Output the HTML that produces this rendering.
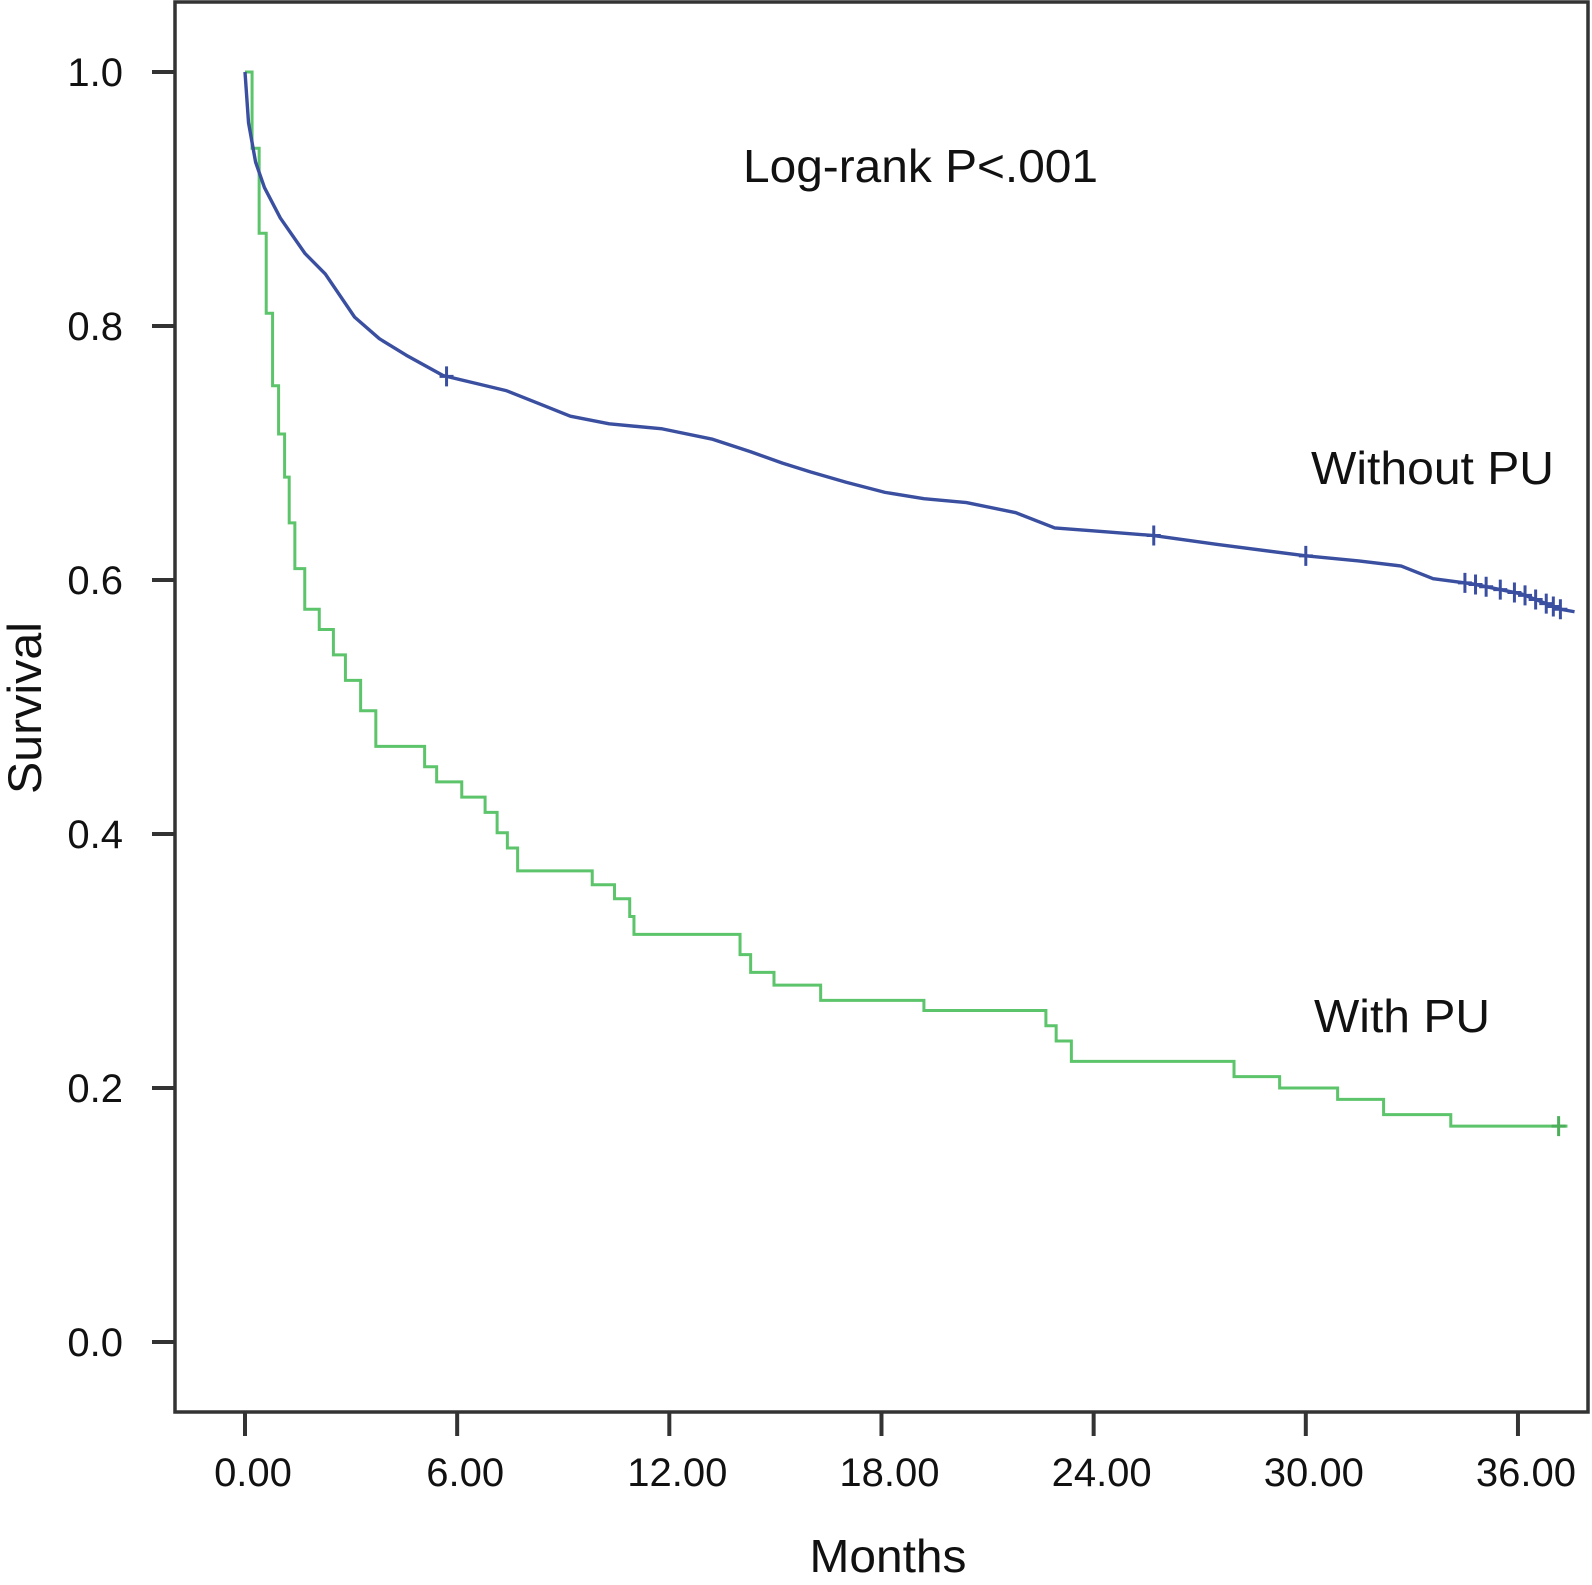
<!DOCTYPE html>
<html><head><meta charset="utf-8">
<style>
html,body{margin:0;padding:0;background:#fff;}
svg{display:block;font-family:"Liberation Sans",Arial,sans-serif;}
</style></head>
<body>
<svg id="chart" width="1592" height="1585" viewBox="0 0 1592 1585" xmlns="http://www.w3.org/2000/svg">
<rect x="0" y="0" width="1592" height="1585" fill="#fff"/>
<rect x="175" y="2" width="1413" height="1410" fill="none" stroke="#333" stroke-width="3.5"/>
<g id="axes"></g>
<g id="series"></g>
<text x="743" y="182" font-size="46" fill="#111" textLength="355" lengthAdjust="spacingAndGlyphs">Log-rank P&lt;.001</text>
<text x="1311" y="484" font-size="46" fill="#111" textLength="243" lengthAdjust="spacingAndGlyphs">Without PU</text>
<text x="1314" y="1032" font-size="46" fill="#111" textLength="176" lengthAdjust="spacingAndGlyphs">With PU</text>
<text x="888" y="1572" font-size="46" text-anchor="middle" fill="#111" textLength="157" lengthAdjust="spacingAndGlyphs">Months</text>
<text transform="translate(41,708) rotate(-90)" font-size="47" text-anchor="middle" fill="#111" textLength="172" lengthAdjust="spacingAndGlyphs">Survival</text>
</svg>
<script>
const xTicks=[0,6,12,18,24,30,36];
const xTickLabels=["0.00","6.00","12.00","18.00","24.00","30.00","36.00"];
const yTicks=[0,0.2,0.4,0.6,0.8,1.0];
const yTickLabels=["0.0","0.2","0.4","0.6","0.8","1.0"];
const blueTimes=[0,0.1,0.3,0.55,1.0,1.7,2.27,3.1,3.8,4.56,5.6,6.5,7.4,8.3,9.2,10.3,11.8,13.2,14.3,15.2,16.0,17.0,18.1,19.2,20.4,21.8,22.9,24.3,25.7,27.5,30.0,31.5,32.7,33.6,34.7,36.1,37.2,37.6];
const blueSurv=[1.0,0.96,0.929,0.909,0.885,0.857,0.841,0.807,0.79,0.777,0.761,0.755,0.749,0.739,0.729,0.723,0.719,0.711,0.701,0.692,0.685,0.677,0.669,0.664,0.661,0.653,0.641,0.638,0.635,0.628,0.619,0.615,0.611,0.601,0.597,0.589,0.577,0.575];
const blueCensor=[5.7,25.7,30.0,34.5,34.8,35.1,35.5,35.9,36.2,36.5,36.8,37.0,37.2];
const greenTimes=[0,0.2,0.4,0.6,0.78,0.95,1.12,1.25,1.41,1.69,2.1,2.5,2.84,3.27,3.7,5.08,5.42,6.13,6.79,7.13,7.42,7.71,9.82,10.45,10.88,11.0,14.0,14.3,14.96,16.28,19.2,22.65,22.94,23.37,27.97,29.26,30.9,32.2,34.1];
const greenSurv=[1.0,0.94,0.873,0.81,0.753,0.715,0.681,0.645,0.609,0.577,0.561,0.541,0.521,0.497,0.469,0.453,0.441,0.429,0.417,0.401,0.389,0.371,0.36,0.349,0.335,0.321,0.305,0.291,0.281,0.269,0.261,0.249,0.237,0.221,0.209,0.2,0.191,0.179,0.17];
const greenEnd=37.4;
const greenCensor=[37.15];

const NS="http://www.w3.org/2000/svg";
const X=t=>245+t*35.36;
const Y=s=>1342-s*1270;
const axes=document.getElementById('axes');
const series=document.getElementById('series');
function mk(tag,attrs,parent){const e=document.createElementNS(NS,tag);for(const k in attrs)e.setAttribute(k,attrs[k]);parent.appendChild(e);return e;}
xTicks.forEach((t,i)=>{
  const l=mk('line',{x1:X(t),x2:X(t),y1:1412,y2:1436,stroke:'#333','stroke-width':4},axes);
  
  
  const tx=mk('text',{x:X(t)+8,y:1486,'font-size':40,'text-anchor':'middle',fill:'#111'},axes);
  tx.textContent=xTickLabels[i];
  
  
});
yTicks.forEach((v,i)=>{
  const l=mk('line',{x1:152,x2:175,y1:Y(v),y2:Y(v),stroke:'#333','stroke-width':4},axes);
  
  
  const tx=mk('text',{x:123,y:Y(v)+14,'font-size':40,'text-anchor':'end',fill:'#111'},axes);
  tx.textContent=yTickLabels[i];
  
  
});
function stepPath(times,surv,end){
  let d='M'+X(times[0])+','+Y(surv[0]);
  for(let i=1;i<times.length;i++){d+=' H'+X(times[i])+' V'+Y(surv[i]);}
  d+=' H'+X(end);return d;
}
function linePath(times,surv){
  let d='M'+X(times[0])+','+Y(surv[0]);
  for(let i=1;i<times.length;i++){d+=' L'+X(times[i])+','+Y(surv[i]);}
  return d;
}
function survAt(times,surv,t){
  for(let i=1;i<times.length;i++){if(times[i]>=t){const f=(t-times[i-1])/(times[i]-times[i-1]);return surv[i-1]+f*(surv[i]-surv[i-1]);}}
  return surv[surv.length-1];
}
function survStep(times,surv,t){let s=surv[0];for(let i=0;i<times.length;i++){if(times[i]<=t)s=surv[i];}return s;}
const gp=mk('path',{d:stepPath(greenTimes,greenSurv,greenEnd),fill:'none',stroke:'#5cc46a','stroke-width':3},series);


const bp=mk('path',{d:linePath(blueTimes,blueSurv),fill:'none',stroke:'#3a4fa0','stroke-width':3.4,'stroke-linejoin':'round'},series);


function censor(ts,sf,color,name){
  ts.forEach(t=>{
    const s=sf(t);
    const p=mk('path',{d:'M'+(X(t)-7)+','+Y(s)+' H'+(X(t)+7)+' M'+X(t)+','+(Y(s)-10)+' V'+(Y(s)+10),stroke:color,'stroke-width':3,fill:'none'},series);
    
    
  });
}
censor(blueCensor,t=>survAt(blueTimes,blueSurv,t),'#3a4fa0','without-pu-censor-mark');
censor(greenCensor,t=>survStep(greenTimes,greenSurv,t),'#4caf5a','with-pu-censor-mark');
</script>
</body></html>
